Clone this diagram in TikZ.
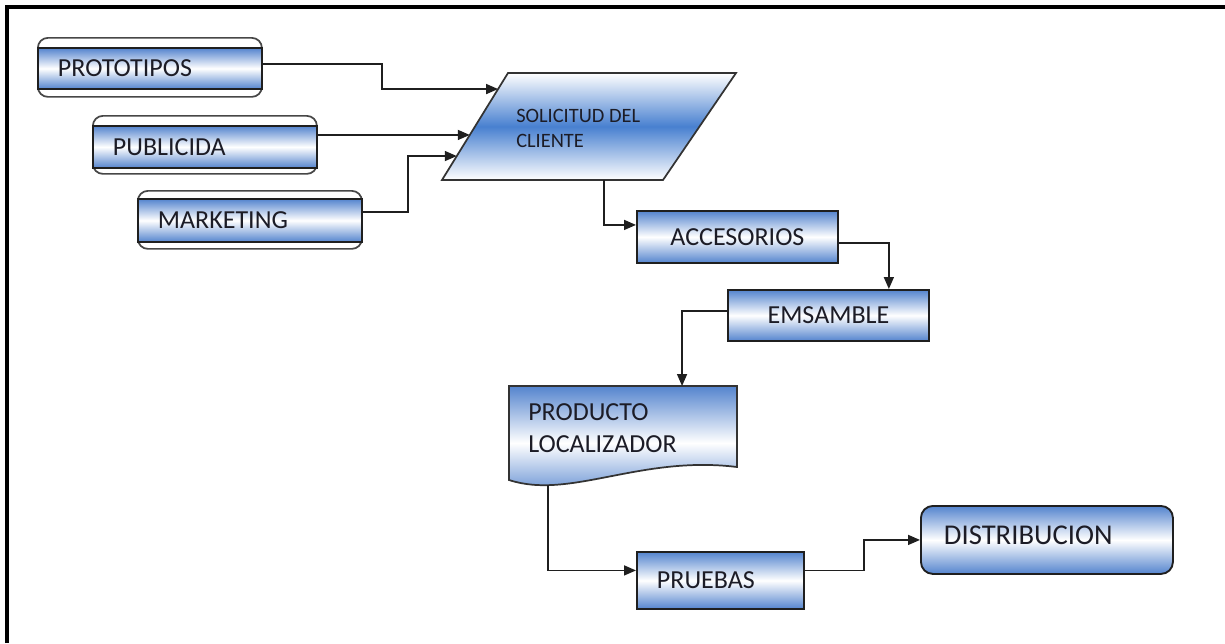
\documentclass[tikz,border=0pt]{standalone}
\usepackage{fontspec}
\setmainfont{Carlito}
\usetikzlibrary{arrows.meta,calc}
\newdimen\upx \upx=0.75pt
\definecolor{bandblue}{RGB}{84,132,206}
\definecolor{solblue}{RGB}{72,128,208}
\definecolor{txt}{RGB}{28,28,38}
\begin{document}
\begin{tikzpicture}[x=0.75pt,y=-0.75pt,
  outerbox/.style={draw=black!72, line width=1.3pt, rounded corners=7.5pt, fill=white,
    rectangle, anchor=north west, inner sep=0pt},
  band/.style={draw=black!88, line width=1.4pt, top color=bandblue, bottom color=bandblue,
    middle color=white, rectangle, anchor=north west, inner sep=0pt, text=txt,
    font=\fontsize{19.5}{24}\selectfont},
  lefttext/.style={inner xsep=20\upx, align=left},
  conn/.style={draw=black!88, line width=1.2pt, -{Triangle[length=9pt,width=7.5pt]}},
  shapeline/.style={draw=black!80, line width=1.3pt}
]
\useasboundingbox (0,0) rectangle (1225,643);
% frame
\draw[line width=2.3pt] (7,643) -- (7,7) -- (1225,7);

% input boxes
\node[outerbox, minimum width=224\upx, minimum height=59\upx] (prot-out) at (37,37) {};
\node[band, lefttext, minimum width=224\upx, minimum height=41\upx, text width=184\upx] (prot) at (37,47) {PROTOTIPOS};
\node[outerbox, minimum width=224\upx, minimum height=58\upx] (publ-out) at (92,115) {};
\node[band, lefttext, minimum width=224\upx, minimum height=42\upx, text width=184\upx] (publ) at (92,125) {PUBLICIDA};
\node[outerbox, minimum width=224\upx, minimum height=58\upx] (mark-out) at (137,190) {};
\node[band, lefttext, minimum width=224\upx, minimum height=43\upx, text width=184\upx] (mark) at (137,198) {MARKETING};

% solicitud parallelogram
\coordinate (sol-tl) at (508,73);
\coordinate (sol-tr) at (736,73);
\coordinate (sol-br) at (663,180);
\coordinate (sol-bl) at (442,180);
\path[shapeline, top color=white, bottom color=white, middle color=solblue]
  (sol-tl) -- (sol-tr) -- (sol-br) -- (sol-bl) -- cycle;
\node[anchor=west, inner sep=0pt, align=left, text=txt, font=\fontsize{15.3}{18.75}\selectfont] (sol) at (516,128) {SOLICITUD DEL\\CLIENTE};
\coordinate (sol-in1) at ($(sol-tl)!0.15!(sol-bl)$);
\coordinate (sol-in2) at ($(sol-tl)!0.579!(sol-bl)$);
\coordinate (sol-in3) at ($(sol-tl)!0.776!(sol-bl)$);
\coordinate (sol-out) at ($(sol-bl)!0.733!(sol-br)$);

% process boxes
\node[band, align=center, minimum width=201\upx, minimum height=52\upx] (acc) at (636,210) {ACCESORIOS};
\node[band, align=center, minimum width=201\upx, minimum height=51\upx] (ems) at (727,289) {EMSAMBLE};

% producto document
\coordinate (prod-tl) at (509,386);
\coordinate (prod-tr) at (737,386);
\coordinate (prod-br) at (737,467);
\coordinate (prod-bl) at (509,480);
\path[shapeline, top color=bandblue, bottom color=bandblue, middle color=white]
  (prod-tl) -- (prod-tr) -- (prod-br) .. controls (640,455) and (570,500) .. (prod-bl) -- cycle;
\node[anchor=west, inner sep=0pt, align=left, text=txt, font=\fontsize{19.5}{24}\selectfont] (prod) at (528,428) {PRODUCTO\\LOCALIZADOR};
\coordinate (prod-in) at ($(prod-tl)!0.759!(prod-tr)$);
\coordinate (prod-out) at (548,484.5);

\node[band, lefttext, minimum width=167\upx, minimum height=57\upx, text width=127\upx] (prue) at (636,551) {PRUEBAS};
\node[band, rounded corners=9pt, inner xsep=23\upx, align=left, minimum width=252\upx, minimum height=68\upx,
  text width=206\upx, text depth=10\upx, font=\fontsize{21.5}{24}\selectfont] (dist) at (920,505) {DISTRIBUCION};

% connectors
\draw[conn] ($(prot.east)+(0,-4.5)$) -- ++(119,0) |- (sol-in1);
\draw[conn] (sol-in2 -| publ.east) -- (sol-in2);
\draw[conn] ($(mark.east)+(0,-8.5)$) -- ++(45,0) |- (sol-in3);
\draw[conn] (sol-out) |- ($(acc.west)+(0,-12)$);
\draw[conn] ($(acc.east)+(0,6)$) -| ($(ems.north east)+(-41,0)$);
\draw[conn] ($(ems.west)+(0,-4.5)$) -| (prod-in);
\draw[conn] (prod-out) |- ($(prue.west)+(0,-10)$);
\draw[conn] ($(prue.east)+(0,-10)$) -- ++(59,0) |- (dist.west);
\end{tikzpicture}
\end{document}
